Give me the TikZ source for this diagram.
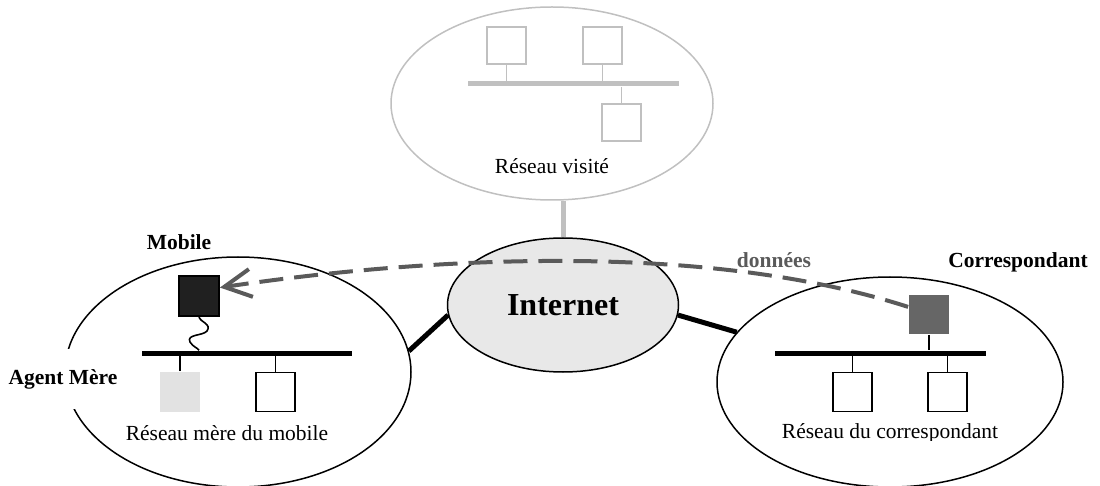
\documentclass[tikz,border=0pt]{standalone}
\usepackage{fontspec}
\setmainfont{Liberation Serif}
\usetikzlibrary{arrows.meta,shapes.geometric}
\definecolor{visgray}{HTML}{C0C0C0}
\definecolor{netfill}{HTML}{E8E8E8}
\definecolor{homefill}{HTML}{E2E2E2}
\definecolor{mobfill}{HTML}{202020}
\definecolor{corrfill}{HTML}{666666}
\definecolor{datagray}{HTML}{5A5A5A}
\begin{document}
\begin{tikzpicture}[x=1pt,y=-1pt,
  host/.style={draw, line width=1.8pt, inner sep=0pt, minimum width=39pt, minimum height=39pt},
  vhost/.style={host, draw=visgray, line width=1.3pt, minimum height=37pt},
  bus/.style={fill=black, inner sep=0pt, minimum height=5pt},
  stem/.style={line width=1.8pt},
  net/.style={draw, ellipse, line width=1.5pt, inner sep=0pt},
  lbl/.style={font=\fontsize{21.5}{26}\selectfont, inner sep=0pt},
  blbl/.style={font=\fontsize{21.5}{26}\selectfont\bfseries, inner sep=0pt},
  link/.style={line width=5pt},
  data/.style={draw=datagray, line width=4pt, dash pattern=on 24pt off 11pt,
    -{Straight Barb[length=27pt,width=28pt]}}]
\useasboundingbox (0,0) rectangle (1100,486);

% networks
\node[net, draw=visgray, minimum width=322pt, minimum height=193pt] (vis) at (552,103.5) {};
\node[net, minimum width=346pt, minimum height=230pt] (home) at (238,372) {};
\node[net, minimum width=346pt, minimum height=210pt] (cnet) at (890,382) {};
\node[net, fill=netfill, minimum width=231pt, minimum height=134pt,
  font=\fontsize{32}{38}\selectfont\bfseries] (inet) at (563,305) {Internet};

% links to the Internet
\draw[link, draw=visgray] (inet.north) -- (inet.north |- vis.south);
\draw[link] (inet.185) -- (home.7);
\draw[link] (inet.355) -- (cnet.162);

% visited network
\node[bus, fill=visgray, minimum width=211pt] (vbus) at (573.5,84) {};
\node[vhost] (v1) at (506.5,45.5) {};
\node[vhost] (v2) at (602.5,45.5) {};
\node[vhost] (v3) at (621.5,122.5) {};
\draw[stem, draw=visgray, line width=1.3pt] (v1.south) -- (v1.south |- vbus.north);
\draw[stem, draw=visgray, line width=1.3pt] (v2.south) -- (v2.south |- vbus.north);
\draw[stem, draw=visgray, line width=1.3pt] (v3.north) -- (v3.north |- vbus.south);
\node[lbl] (vislbl) at (552,166) {Réseau visité};

% home network
\node[bus, minimum width=210pt] (hbus) at (247,353) {};
\node[host, fill=mobfill, minimum width=40pt, minimum height=40pt] (mob) at (199,296) {};
\node[host, draw=none, fill=homefill, minimum width=40pt, minimum height=40pt] (ha) at (180,392) {};
\node[host] (h2) at (275.5,392) {};
\draw[stem] (ha.north) -- (ha.north |- hbus.south);
\draw[stem] (h2.north) -- (h2.north |- hbus.south);
\draw[stem, line width=1.6pt] (mob.south) .. controls (200,322) and (212,324) .. (207,331)
  .. controls (203,336) and (186,334) .. (190,342)
  .. controls (193,347) and (198,348) .. (mob.south |- hbus.north);
\node[lbl] (homelbl) at (227,433) {Réseau mère du mobile};

% correspondent network
\node[bus, minimum width=211pt] (cbus) at (880.5,353) {};
\node[host, fill=corrfill, draw=none, minimum width=40pt] (corr) at (929,314.5) {};
\node[host] (c1) at (852.5,392) {};
\node[host] (c2) at (947.5,392) {};
\draw[stem] (corr.south) -- (corr.south |- cbus.north);
\draw[stem] (c1.north) -- (c1.north |- cbus.south);
\draw[stem] (c2.north) -- (c2.north |- cbus.south);
\begin{scope}
  \clip (740,415) rectangle (1040,440);
  \node[lbl] (cnetlbl) at (890,433) {Réseau du correspondant};
\end{scope}

% labels
\node[blbl] (moblbl) at (179,242) {Mobile};
\node[blbl, fill=white, inner xsep=5pt, minimum height=60pt] (halbl) at (63,379) {Agent Mère};
\node[blbl] (corrlbl) at (1018,262) {Correspondant};
\node[blbl, text=datagray] (datalbl) at (774,260) {données};

% data path from the correspondent to the mobile
\draw[data] (corr.160) .. controls (700,240) and (420,258) .. (mob.22);
\end{tikzpicture}
\end{document}
